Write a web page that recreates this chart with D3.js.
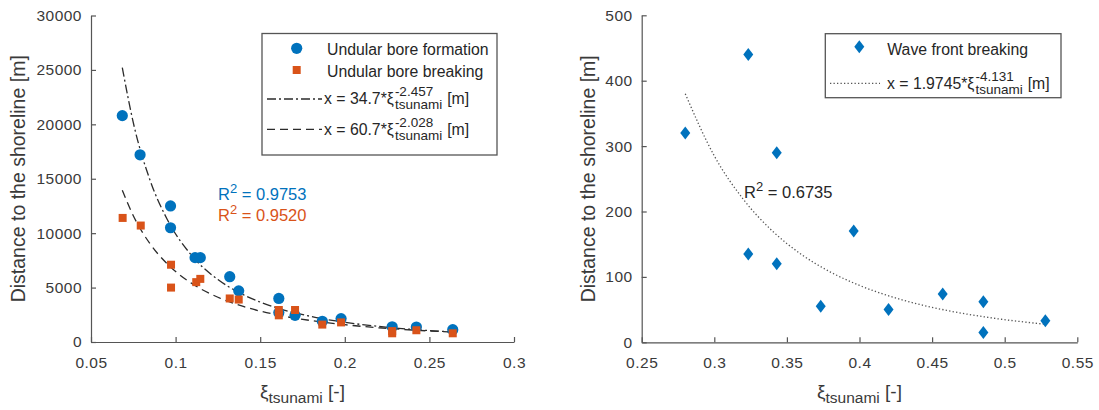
<!DOCTYPE html>
<html>
<head>
<meta charset="utf-8">
<script src="https://cdn.jsdelivr.net/npm/d3@7"></script>
<style>
  body { margin: 0; background: #fff; }
  svg { font-family: "Liberation Sans", Arial, sans-serif; }
</style>
</head>
<body>
<svg id="chart" width="1099" height="410"></svg>
<script>
// ---------------------------//
//       DATA                 //
// ---------------------------//

// left panel : undular bore formation (blue circles)
var formationXi  = [0.0685, 0.079, 0.097, 0.097, 0.1115, 0.1146, 0.132, 0.1373, 0.161, 0.161, 0.1706, 0.1867, 0.1978, 0.228, 0.2423, 0.2638]
var formationDist = [20800, 17200, 12500, 10500, 7750, 7750, 6000, 4700, 4000, 2700, 2450, 1900, 2150, 1400, 1380, 1130]

// left panel : undular bore breaking (orange squares)
var breakingXi   = [0.0687, 0.0794, 0.0973, 0.0973, 0.1122, 0.1146, 0.132, 0.1373, 0.161, 0.161, 0.1706, 0.1867, 0.1978, 0.228, 0.228, 0.2423, 0.2638]
var breakingDist = [11400, 10700, 7100, 5000, 5500, 5800, 4000, 3900, 2940, 2450, 2940, 1600, 1800, 1000, 800, 1080, 800]

// fitted curves
var fitXi        = [0.0685, 0.075, 0.085, 0.095, 0.11, 0.125, 0.14, 0.16, 0.18, 0.2, 0.22, 0.24, 0.2638]
var fitFormation = [25200, 20150, 14820, 11280, 7860, 5740, 4350, 3130, 2350, 1810, 1430, 1160, 917]
var fitBreaking  = [13940, 11600, 9000, 7190, 5340, 4110, 3270, 2490, 1970, 1590, 1310, 1100, 906]

// right panel : wave front breaking (blue diamonds)
var waveXi   = [0.280, 0.3234, 0.3234, 0.343, 0.343, 0.3733, 0.396, 0.420, 0.4573, 0.4853, 0.4853, 0.528]
var waveDist = [320, 440, 135, 290, 120, 55, 170, 50, 74, 62, 15, 33]

var waveFitXi   = [0.28, 0.30, 0.32, 0.34, 0.36, 0.38, 0.40, 0.43, 0.46, 0.49, 0.528]
var waveFitDist = [380, 285, 218.6, 170.2, 134.4, 107.4, 87.0, 64.5, 48.8, 37.6, 27.6]

// ticks
var leftXTicks  = [0.05, 0.1, 0.15, 0.2, 0.25, 0.3]
var leftYTicks  = [0, 5000, 10000, 15000, 20000, 25000, 30000]
var rightXTicks = [0.25, 0.3, 0.35, 0.4, 0.45, 0.5, 0.55]
var rightYTicks = [0, 100, 200, 300, 400, 500]

var blue = "#0072BD", orange = "#D95319"
var axisColor = "#555", textColor = "#3a3a3a"

var svg = d3.select("#chart")

// ---------------------------//
//       AXES                 //
// ---------------------------//
function drawAxes(x, y, xTicks, yTicks, yLabelX) {
  var x0 = x.range()[0], y0 = y.range()[0]

  var gx = svg.append("g")
    .attr("transform", "translate(0," + y0 + ")")
    .call(d3.axisBottom(x).tickValues(xTicks).tickFormat(d3.format("")).tickSizeInner(-5).tickSizeOuter(0).tickPadding(4))
  gx.selectAll("text").attr("dy", null).attr("y", 26)

  var gy = svg.append("g")
    .attr("transform", "translate(" + x0 + ",0)")
    .call(d3.axisLeft(y).tickValues(yTicks).tickFormat(d3.format("")).tickSizeInner(-5).tickSizeOuter(0).tickPadding(9))

  svg.selectAll(".tick text").style("font-size", "15.5px").style("letter-spacing", "0.5px")
    .attr("fill", textColor).style("font-family", null)
  svg.selectAll(".domain, .tick line").attr("stroke", axisColor).attr("stroke-width", 1.2)

  // y label
  svg.append("text")
    .attr("transform", "translate(" + yLabelX + "," + ((y.range()[0] + y.range()[1]) / 2) + ") rotate(-90)")
    .attr("text-anchor", "middle")
    .style("font-size", "19.5px")
    .attr("fill", textColor)
    .text("Distance to the shoreline [m]")

  // x label
  var xl = svg.append("text")
    .attr("x", (x.range()[0] + x.range()[1]) / 2)
    .attr("y", 398)
    .attr("text-anchor", "middle")
    .style("font-size", "19px")
    .attr("fill", textColor)
  xl.append("tspan").text("ξ")
  xl.append("tspan").attr("dy", 5).style("font-size", "15.5px").text("tsunami")
  xl.append("tspan").attr("dy", -5).text(" [-]")
}

// ---------------------------//
//       LEFT PANEL           //
// ---------------------------//
var xL = d3.scaleLinear().domain([0.05, 0.3]).range([91, 514])
var yL = d3.scaleLinear().domain([0, 30000]).range([342, 15.5])
drawAxes(xL, yL, leftXTicks, leftYTicks, 25)

var lineL = d3.line().curve(d3.curveMonotoneX)
  .x(function(d) { return xL(d[0]) })
  .y(function(d) { return yL(d[1]) })

svg.append("path")
  .datum(d3.zip(fitXi, fitBreaking))
  .attr("d", lineL)
  .attr("fill", "none").attr("stroke", "#2b2b2b").attr("stroke-width", 1.3)
  .attr("stroke-dasharray", "8,5")

svg.append("path")
  .datum(d3.zip(fitXi, fitFormation))
  .attr("d", lineL)
  .attr("fill", "none").attr("stroke", "#2b2b2b").attr("stroke-width", 1.3)
  .attr("stroke-dasharray", "9,3,2,3")

svg.append("g").selectAll("circle")
  .data(d3.zip(formationXi, formationDist))
  .enter().append("circle")
    .attr("cx", function(d) { return xL(d[0]) })
    .attr("cy", function(d) { return yL(d[1]) })
    .attr("r", 5.6)
    .attr("fill", blue)

svg.append("g").selectAll("rect")
  .data(d3.zip(breakingXi, breakingDist))
  .enter().append("rect")
    .attr("x", function(d) { return xL(d[0]) - 4 })
    .attr("y", function(d) { return yL(d[1]) - 4 })
    .attr("width", 8).attr("height", 8)
    .attr("fill", orange)

function rSquared(x, y, value, color) {
  var t = svg.append("text").attr("x", x).attr("y", y)
    .style("font-size", "16.5px").attr("fill", color)
  t.append("tspan").text("R")
  t.append("tspan").attr("dy", -7).style("font-size", "13px").text("2")
  t.append("tspan").attr("dy", 7).text(" = " + value)
}
rSquared(218, 200, "0.9753", blue)
rSquared(218, 221, "0.9520", orange)

// ---------------------------//
//       LEGENDS              //
// ---------------------------//
function legendBox(x0, y0, x1, y1) {
  svg.append("rect")
    .attr("x", x0).attr("y", y0)
    .attr("width", x1 - x0).attr("height", y1 - y0)
    .attr("fill", "#fff").attr("stroke", "#555").attr("stroke-width", 1.3)
}

function legendText(x, y, str) {
  svg.append("text").attr("x", x).attr("y", y)
    .style("font-size", "15.8px").attr("fill", "#262626").text(str)
}

function legendFormula(x, y, head, exponent) {
  var t = svg.append("text").attr("x", x).attr("y", y)
    .style("font-size", "15.8px").attr("fill", "#262626").text(head)
  var xs = x + t.node().getComputedTextLength() + 1
  var sup = svg.append("text").attr("x", xs).attr("y", y - 8)
    .style("font-size", "13.5px").attr("fill", "#262626").text(exponent)
  var sub = svg.append("text").attr("x", xs).attr("y", y + 5)
    .style("font-size", "13.5px").attr("fill", "#262626").text("tsunami")
  var w = Math.max(sup.node().getComputedTextLength(), sub.node().getComputedTextLength())
  svg.append("text").attr("x", xs + w + 5).attr("y", y)
    .style("font-size", "15.8px").attr("fill", "#262626").text("[m]")
}

legendBox(262, 33.5, 497, 155)
svg.append("circle").attr("cx", 296.7).attr("cy", 48.3).attr("r", 5.6).attr("fill", blue)
legendText(327, 55, "Undular bore formation")
svg.append("rect").attr("x", 292.7).attr("y", 66).attr("width", 8).attr("height", 8).attr("fill", orange)
legendText(327, 77, "Undular bore breaking")
svg.append("line").attr("x1", 267).attr("x2", 322).attr("y1", 99).attr("y2", 99)
  .attr("stroke", "#2b2b2b").attr("stroke-width", 1.3).attr("stroke-dasharray", "9,3,2,3")
legendFormula(324, 104, "x = 34.7*ξ", "-2.457")
svg.append("line").attr("x1", 267).attr("x2", 322).attr("y1", 129.3).attr("y2", 129.3)
  .attr("stroke", "#2b2b2b").attr("stroke-width", 1.3).attr("stroke-dasharray", "8,5")
legendFormula(324, 135, "x = 60.7*ξ", "-2.028")

// ---------------------------//
//       RIGHT PANEL          //
// ---------------------------//
var xR = d3.scaleLinear().domain([0.25, 0.55]).range([641.7, 1077.3])
var yR = d3.scaleLinear().domain([0, 500]).range([342.3, 15.3])
drawAxes(xR, yR, rightXTicks, rightYTicks, 595)

var lineR = d3.line().curve(d3.curveMonotoneX)
  .x(function(d) { return xR(d[0]) })
  .y(function(d) { return yR(d[1]) })

svg.append("path")
  .datum(d3.zip(waveFitXi, waveFitDist))
  .attr("d", lineR)
  .attr("fill", "none").attr("stroke", "#555").attr("stroke-width", 1.3)
  .attr("stroke-dasharray", "1.3,2.2")

var diamond = function(cx, cy) {
  return "M" + cx + "," + (cy - 6.5) + "L" + (cx + 5) + "," + cy + "L" + cx + "," + (cy + 6.5) + "L" + (cx - 5) + "," + cy + "Z"
}

svg.append("g").selectAll("path")
  .data(d3.zip(waveXi, waveDist))
  .enter().append("path")
    .attr("d", function(d) { return diamond(xR(d[0]), yR(d[1])) })
    .attr("fill", blue)

rSquared(744, 198, "0.6735", "#262626")

legendBox(825.3, 33.7, 1061, 97.7)
svg.append("path").attr("d", diamond(859.3, 46.7)).attr("fill", blue)
legendText(887.3, 55, "Wave front breaking")
svg.append("line").attr("x1", 830).attr("x2", 880).attr("y1", 83.3).attr("y2", 83.3)
  .attr("stroke", "#555").attr("stroke-width", 1.3).attr("stroke-dasharray", "1.3,2.2")
legendFormula(887, 89, "x = 1.9745*ξ", "-4.131")
</script>
</body>
</html>
